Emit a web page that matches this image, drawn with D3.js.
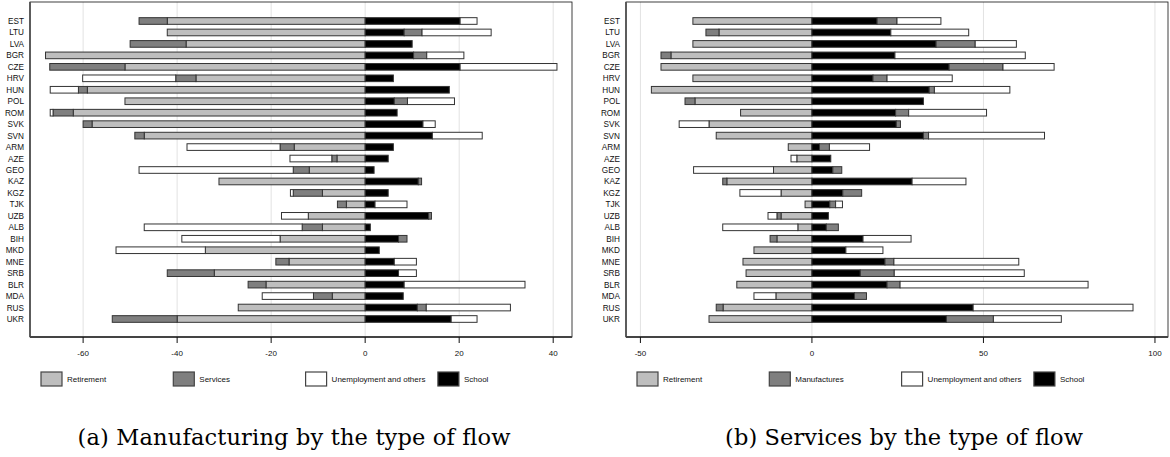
<!DOCTYPE html>
<html>
  <head>
    <meta charset="utf-8">
    <title>Flows by type</title>
    <script src="https://cdn.jsdelivr.net/npm/d3@7"></script>
    <style>
      body { margin: 0; background: #fff; }
      text { font-family: "Liberation Sans", Arial, sans-serif; }
      .caption { font-family: "DejaVu Serif", "Liberation Serif", serif; }
    </style>
  </head>
  <body>
    <svg width="1170" height="457" id="mainsvg"></svg>
    <script>
      const countries = ['EST','LTU','LVA','BGR','CZE','HRV','HUN','POL','ROM','SVK','SVN','ARM','AZE','GEO',
                         'KAZ','KGZ','TJK','UZB','ALB','BIH','MKD','MNE','SRB','BLR','MDA','RUS','UKR'];

      // (a) manufacturing
      const mRetirement = [-42.1,-42.1,-38.1,-68.0,-51.1,-36.0,-59.1,-51.1,-62.1,-58.1,-47.0,-15.1,-6.0,-11.9,
                           -31.1,-9.1,-4.0,-12.1,-9.1,-18.1,-34.0,-16.2,-32.1,-21.1,-7.0,-27.0,-40.0];
      const mServices   = [-6.0,3.8,-11.9,2.8,-16.0,-4.3,-1.9,2.8,-4.3,-1.9,-2.0,-3.0,-1.1,-3.4,
                           0.7,-6.2,-1.9,0.6,-4.3,1.8,0,-2.8,-10.0,-3.8,-4.0,1.9,-13.8];
      const mUnemp      = [3.6,14.7,0,7.9,20.6,-19.8,-6.0,10.0,-0.6,2.6,10.6,-19.8,-8.9,-32.8,
                           0,-0.6,6.8,-5.7,-33.6,-20.9,-19.0,4.7,3.8,25.7,-10.9,17.9,5.5];
      const mSchool     = [20.2,8.3,10.0,10.3,20.2,6.0,17.9,6.2,6.8,12.3,14.3,6.0,4.9,1.9,
                           11.3,4.9,2.1,13.5,1.1,7.1,3.0,6.2,7.1,8.3,8.1,11.1,18.3];

      // (b) services
      const sRetirement = [-34.7,-27.1,-34.7,-41.1,-44.0,-34.7,-46.8,-34.1,-20.8,-30.0,-27.9,-6.9,-4.4,-11.2,
                           -24.8,-9.0,-2.0,-9.0,-4.1,-10.2,-16.9,-20.1,-19.2,-21.9,-10.5,-25.9,-30.0];
      const sManuf      = [5.8,-3.8,11.4,-2.9,15.7,4.1,1.5,-2.9,3.8,1.2,1.5,2.9,0,2.6,
                           -1.2,5.5,1.7,-1.2,3.5,-2.0,0,2.6,9.9,3.8,3.5,-2.0,13.7];
      const sUnemp      = [12.8,22.7,12.0,38.0,14.9,19.0,22.0,0,22.7,-8.7,33.8,11.7,-1.7,-23.3,
                           15.7,-12.0,2.0,-2.6,-21.9,14.0,10.8,36.4,37.9,54.8,-6.4,46.6,19.8];
      const sSchool     = [19.0,23.0,36.2,24.2,40.0,17.8,34.2,32.5,24.4,24.6,32.5,2.2,5.5,6.1,
                           29.2,9.0,5.2,4.8,4.2,14.9,9.9,21.3,14.1,21.9,12.4,47.0,39.2];

      const ticksA = [-60,-40,-20,0,20,40];
      const ticksB = [-50,0,50,100];

      const colors = {ret: '#bebebe', mid: '#7f7f7f', unemp: '#ffffff', school: '#000000'};

      const svg = d3.select('#mainsvg');

      function drawPanel(cfg) {
        const g = svg.append('g');
        const x = d3.scaleLinear().domain(cfg.domain).range([cfg.left, cfg.right]);
        const step = 11.46;
        const y = d3.scaleBand().domain(countries)
          .range([21 - step / 2, 319 + step / 2])
          .paddingInner(0.42).paddingOuter(0.21);

        const rows = countries.map((c, i) => ({
          country: c, ret: cfg.ret[i], school: cfg.school[i], mid: cfg.mid[i], unemp: cfg.unemp[i]
        }));
        const keys = ['ret', 'school', 'mid', 'unemp'];
        const series = d3.stack().keys(keys).offset(d3.stackOffsetDiverging)(rows);

        // grid
        g.selectAll('line.grid').data(cfg.ticks).join('line')
          .attr('class', 'grid')
          .attr('x1', d => x(d)).attr('x2', d => x(d))
          .attr('y1', cfg.top).attr('y2', cfg.bottom)
          .attr('stroke', '#e2e2e2').attr('stroke-width', 1);

        // bars
        g.selectAll('g.series').data(series).join('g')
          .attr('class', 'series')
          .attr('fill', d => colors[d.key])
          .selectAll('rect').data(d => d.filter(p => p[1] - p[0] !== 0)).join('rect')
          .attr('x', d => x(Math.min(d[0], d[1])))
          .attr('width', d => Math.abs(x(d[1]) - x(d[0])))
          .attr('y', d => y(d.data.country))
          .attr('height', y.bandwidth())
          .attr('stroke', '#333').attr('stroke-width', 1);

        // frame
        g.append('rect')
          .attr('x', cfg.left).attr('y', cfg.top)
          .attr('width', cfg.right - cfg.left).attr('height', cfg.bottom - cfg.top)
          .attr('fill', 'none').attr('stroke', '#111').attr('stroke-width', 0.8);
        g.append('line').attr('x1', cfg.left).attr('x2', cfg.left)
          .attr('y1', cfg.top).attr('y2', cfg.bottom)
          .attr('stroke', '#555').attr('stroke-width', 1.8);
        g.append('line').attr('x1', cfg.left).attr('x2', cfg.right)
          .attr('y1', cfg.bottom).attr('y2', cfg.bottom)
          .attr('stroke', '#444').attr('stroke-width', 1.8);

        // y labels
        g.selectAll('text.ylab').data(countries).join('text')
          .attr('class', 'ylab')
          .attr('x', cfg.left - 6)
          .attr('y', d => y(d) + y.bandwidth() / 2 + 3)
          .attr('text-anchor', 'end')
          .attr('font-size', '8.2px')
          .attr('fill', '#111')
          .text(d => d);

        // x ticks
        g.selectAll('line.tick').data(cfg.ticks).join('line')
          .attr('class', 'tick')
          .attr('x1', d => x(d)).attr('x2', d => x(d))
          .attr('y1', cfg.bottom).attr('y2', cfg.bottom + 6)
          .attr('stroke', '#111').attr('stroke-width', 1);
        g.selectAll('text.xlab').data(cfg.ticks).join('text')
          .attr('class', 'xlab')
          .attr('x', d => x(d)).attr('y', cfg.bottom + 18.5)
          .attr('text-anchor', 'middle')
          .attr('font-size', '8px')
          .attr('fill', '#111')
          .text(d => d);

        // legend
        const legend = g.selectAll('g.leg').data(cfg.legend).join('g')
          .attr('class', 'leg')
          .attr('transform', (d, i) => `translate(${cfg.left + 11 + i * 132.3}, 372)`);
        legend.append('rect')
          .attr('width', 21).attr('height', 14)
          .attr('fill', d => colors[d.key])
          .attr('stroke', '#444').attr('stroke-width', 1.2);
        legend.append('text')
          .attr('x', 26).attr('y', 10)
          .attr('font-size', '8px')
          .attr('fill', '#111')
          .text(d => d.label);

        // caption
        svg.append('text')
          .attr('class', 'caption')
          .attr('x', cfg.capX).attr('y', 445)
          .attr('text-anchor', 'middle')
          .attr('font-size', '22.5px')
          .attr('textLength', cfg.capLen)
          .attr('lengthAdjust', 'spacing')
          .attr('fill', '#000')
          .text(cfg.caption);
      }

      drawPanel({
        left: 30, right: 572, top: 2, bottom: 337,
        domain: [-71.3, 44], ticks: ticksA,
        ret: mRetirement, mid: mServices, unemp: mUnemp, school: mSchool,
        legend: [{key: 'ret', label: 'Retirement'}, {key: 'mid', label: 'Services'},
                 {key: 'unemp', label: 'Unemployment and others'}, {key: 'school', label: 'School'}],
        caption: '(a) Manufacturing by the type of flow', capX: 294, capLen: 433
      });

      drawPanel({
        left: 626, right: 1168, top: 2, bottom: 337,
        domain: [-54.2, 103.8], ticks: ticksB,
        ret: sRetirement, mid: sManuf, unemp: sUnemp, school: sSchool,
        legend: [{key: 'ret', label: 'Retirement'}, {key: 'mid', label: 'Manufactures'},
                 {key: 'unemp', label: 'Unemployment and others'}, {key: 'school', label: 'School'}],
        caption: '(b) Services by the type of flow', capX: 904, capLen: 358
      });
    </script>
  </body>
</html>
